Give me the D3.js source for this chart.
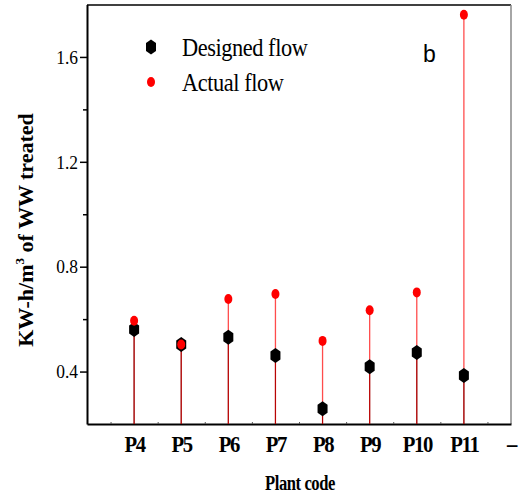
<!DOCTYPE html>
<html>
<head>
<meta charset="utf-8">
<script src="https://cdn.jsdelivr.net/npm/d3@7"></script>
<style>
  html, body { margin: 0; padding: 0; background: #fff; }
  svg { display: block; }
</style>
</head>
<body>
<svg id="chart" width="519" height="497"></svg>
<script>
// Specific energy use per plant, designed vs. actual flow
const plants = ["P4", "P5", "P6", "P7", "P8", "P9", "P10", "P11"];
const designedFlow = [0.56, 0.503, 0.531, 0.461, 0.258, 0.418, 0.473, 0.385];
const actualFlow = [0.594, 0.503, 0.677, 0.696, 0.517, 0.634, 0.702, 1.761];
const xTickLabels = ["P4", "P5", "P6", "P7", "P8", "P9", "P10", "P11", "–"];
const yMajorTicks = [0.4, 0.8, 1.2, 1.6];
const yMinorTicks = [0.6, 1.0, 1.4];

const svg = d3.select("#chart");
const serif = "'Liberation Serif', 'Times New Roman', serif";
const plotLeft = 87, plotRight = 511, plotTop = 5, plotBottom = 424;

const x = d3.scaleLinear().domain([0, 9]).range([plotLeft, plotRight]);
const y = d3.scaleLinear().domain([0.2, 1.8]).range([plotBottom, plotTop - 0.5]);

// frame: top and right edges
svg.append("line").attr("x1", plotLeft).attr("x2", plotRight).attr("y1", plotTop).attr("y2", plotTop)
  .attr("stroke", "#000").attr("stroke-width", 1.5);
svg.append("line").attr("x1", plotRight).attr("x2", plotRight).attr("y1", plotTop).attr("y2", plotBottom)
  .attr("stroke", "#888").attr("stroke-width", 1.5);

// y axis
const yAxis = d3.axisLeft(y).tickValues(yMajorTicks).tickFormat(d3.format(".1f"))
  .tickSize(7).tickSizeOuter(0);
const gy = svg.append("g").attr("transform", `translate(${plotLeft},0)`).call(yAxis);
gy.select(".domain").attr("stroke-width", 2);
gy.selectAll(".tick line").attr("stroke-width", 1.5);
gy.selectAll(".tick text")
  .attr("font-family", serif).attr("font-size", 19).attr("fill", "#000")
  .attr("x", 0).attr("dy", "0.33em")
  .attr("transform", "translate(-9,0) scale(0.92,1)");
const gyMinor = svg.append("g").attr("transform", `translate(${plotLeft},0)`)
  .call(d3.axisLeft(y).tickValues(yMinorTicks).tickSize(4).tickFormat(""));
gyMinor.select(".domain").remove();
gyMinor.selectAll(".tick line").attr("stroke-width", 1.5);

// x axis
const xAxis = d3.axisBottom(x).tickValues(d3.range(1, 10))
  .tickFormat((d, i) => xTickLabels[i]).tickSize(0).tickSizeOuter(0);
const gx = svg.append("g").attr("transform", `translate(0,${plotBottom})`).call(xAxis);
gx.select(".domain").attr("stroke-width", 2);
gx.selectAll(".tick text")
  .attr("font-family", serif).attr("font-weight", "bold").attr("font-size", 23)
  .attr("letter-spacing", -1.5).attr("fill", "#000").attr("dy", 0).attr("y", 28)
  .attr("transform", "scale(0.9,1)");
const gxMinor = svg.append("g").attr("transform", `translate(0,${plotBottom})`)
  .call(d3.axisTop(x).tickValues(d3.range(0.5, 9, 1)).tickSize(2).tickFormat(""));
gxMinor.select(".domain").remove();
gxMinor.selectAll(".tick line").attr("stroke", "#555");

// drop lines
const idx = d3.range(plants.length);
svg.append("g").selectAll("line").data(idx).join("line")
  .attr("x1", i => x(i + 1)).attr("x2", i => x(i + 1))
  .attr("y1", i => y(designedFlow[i])).attr("y2", plotBottom)
  .attr("stroke", "#000").attr("stroke-width", 1);
svg.append("g").selectAll("line").data(idx).join("line")
  .attr("x1", i => x(i + 1)).attr("x2", i => x(i + 1))
  .attr("y1", i => y(actualFlow[i])).attr("y2", plotBottom)
  .attr("stroke", "#f00").attr("stroke-opacity", 0.7).attr("stroke-width", 1.3);

// markers
const hex = "M0,-7.5L5,-4L5,4L0,7.5L-5,4L-5,-4Z";
svg.append("g").selectAll("path").data(idx).join("path")
  .attr("d", hex)
  .attr("transform", i => `translate(${x(i + 1)},${y(designedFlow[i])})`)
  .attr("fill", "#000");
svg.append("g").selectAll("ellipse").data(idx).join("ellipse")
  .attr("cx", i => x(i + 1)).attr("cy", i => y(actualFlow[i]))
  .attr("rx", 4).attr("ry", 5).attr("fill", "#f00");

// legend
svg.append("path").attr("d", hex).attr("transform", "translate(151,47)").attr("fill", "#000");
svg.append("ellipse").attr("cx", 151).attr("cy", 82).attr("rx", 4).attr("ry", 5).attr("fill", "#f00");
svg.append("text").attr("transform", "translate(182,56) scale(0.86,1)").text("Designed flow")
  .attr("font-family", serif).attr("font-size", 26).attr("letter-spacing", -0.5).attr("fill", "#000");
svg.append("text").attr("transform", "translate(182,91) scale(0.86,1)").text("Actual flow")
  .attr("font-family", serif).attr("font-size", 26).attr("letter-spacing", -0.5).attr("fill", "#000");

// panel letter
svg.append("text").attr("x", 423).attr("y", 62).text("b")
  .attr("font-family", "'Liberation Sans', Arial, sans-serif").attr("font-size", 23).attr("fill", "#000");

// axis titles
svg.append("text").attr("transform", "translate(300,490) scale(0.83,1)")
  .attr("text-anchor", "middle").text("Plant code")
  .attr("font-family", serif).attr("font-weight", "bold").attr("font-size", 20)
  .attr("letter-spacing", -0.5).attr("fill", "#000");
const yt = svg.append("text").attr("transform", "translate(33,230) rotate(-90)")
  .attr("text-anchor", "middle").attr("font-family", serif).attr("font-weight", "bold")
  .attr("font-size", 22).attr("fill", "#000");
yt.append("tspan").text("KW-h/m");
yt.append("tspan").text("3").attr("font-size", 13).attr("dy", -9);
yt.append("tspan").text(" of WW treated").attr("dy", 9);
</script>
</body>
</html>
